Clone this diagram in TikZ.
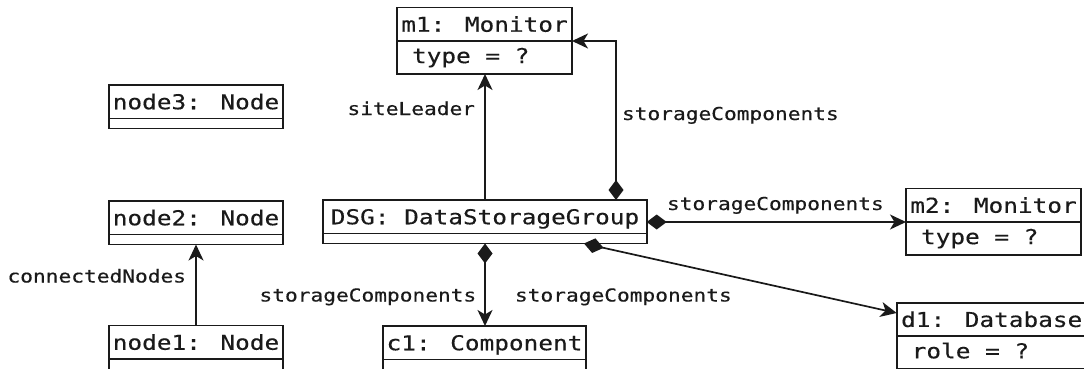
\documentclass[tikz,border=0pt]{standalone}
\usepackage{fontspec}
\usetikzlibrary{arrows.meta,calc}
\newfontfamily\umlfont[FakeStretch=1.19,FakeBold=0.4]{DejaVu Sans Mono}
\definecolor{ink}{HTML}{1A1A1A}
\begin{document}
\begin{tikzpicture}[x=1pt,y=-1pt,
  every node/.style={outer sep=0pt, text=ink},
  head/.style={draw=ink, line width=1.7pt, anchor=north west, minimum height=33.5pt,
    inner sep=0pt, text height=15pt, text depth=0pt,
    font=\umlfont\fontsize{20.5}{24}\selectfont},
  comp/.style={draw=ink, line width=1.7pt, anchor=north west, inner sep=0pt},
  slot/.style={anchor=west, inner sep=0pt, text height=11.2pt, text depth=0pt,
    font=\umlfont\fontsize{20.5}{24}\selectfont},
  lbl/.style={anchor=base west, inner sep=0pt,
    font=\umlfont\fontsize{17.8}{21}\selectfont},
  assoc/.style={draw=ink, line width=1.7pt,
    -{Stealth[length=16pt,width=15pt,inset=4.5pt]}},
  compo/.style={draw=ink, line width=1.7pt,
    {Diamond[length=20pt,width=15pt]}-{Stealth[length=16pt,width=15pt,inset=4.5pt]}}
]
\useasboundingbox (0,0) rectangle (1084,369);

% object boxes: title compartment + attribute compartment
\node[head, minimum width=175pt] (m1) at (397,7.5) {m1: Monitor};
\node[comp, minimum width=175pt, minimum height=33pt] (m1b) at (m1.south west) {};
\node[slot] (m1t) at ($(m1b.west)+(15,0)$) {type = ?};

\node[head, minimum width=174pt] (n3) at (109,85) {node3: Node};
\node[comp, minimum width=174pt, minimum height=10pt] (n3b) at (n3.south west) {};

\node[head, minimum width=174pt] (n2) at (109,201) {node2: Node};
\node[comp, minimum width=174pt, minimum height=10pt] (n2b) at (n2.south west) {};

\node[head, minimum width=174pt] (n1) at (109,325.5) {node1: Node};
\node[comp, minimum width=174pt, minimum height=14pt] (n1b) at (n1.south west) {};

\node[head, minimum width=323.4pt] (dsg) at (323.3,200) {DSG: DataStorageGroup};
\node[comp, minimum width=323.4pt, minimum height=10pt] (dsgb) at (dsg.south west) {};

\node[head, minimum width=203pt] (c1) at (383,326) {c1: Component};
\node[comp, minimum width=203pt, minimum height=14pt] (c1b) at (c1.south west) {};

\node[head, minimum width=175pt] (m2) at (906,188.5) {m2: Monitor};
\node[comp, minimum width=175pt, minimum height=33pt] (m2b) at (m2.south west) {};
\node[slot] (m2t) at ($(m2b.west)+(15,0)$) {type = ?};

\node[head, minimum width=190pt] (d1) at (896.7,302.7) {d1: Database};
\node[comp, minimum width=190pt, minimum height=33pt] (d1b) at (d1.south west) {};
\node[slot] (d1t) at ($(d1b.west)+(15,0)$) {role = ?};

% connector routing points
\coordinate (xlead) at (485,0);
\coordinate (xup) at (616,0);
\coordinate (xdb) at (584,0);
\coordinate (ydb) at (0,313);
\coordinate (xnode) at (196,0);

% associations
\draw[assoc] (dsg.north -| xlead) -- (m1b.south -| xlead);
\draw[compo] (dsg.north -| xup) -- (xup |- m1.south east) -- (m1.south east);
\draw[compo] (dsg.east |- m2.south west) -- (m2.south west);
\draw[compo] (dsgb.south -| xlead) -- (c1.north -| xlead);
\draw[compo] (dsgb.south -| xdb) -- (d1.west |- ydb);
\draw[assoc] (n1.north -| xnode) -- (n2b.south -| xnode);

% role names
\node[lbl] (lLead) at (347.5,115) {siteLeader};
\node[lbl] (lUp) at (622,120) {storageComponents};
\node[lbl] (lM2) at (667,210) {storageComponents};
\node[lbl] (lC1) at (259.5,301.5) {storageComponents};
\node[lbl] (lD1) at (515,301.5) {storageComponents};
\node[lbl] (lNodes) at (7.5,282.5) {connectedNodes};
\end{tikzpicture}
\end{document}
